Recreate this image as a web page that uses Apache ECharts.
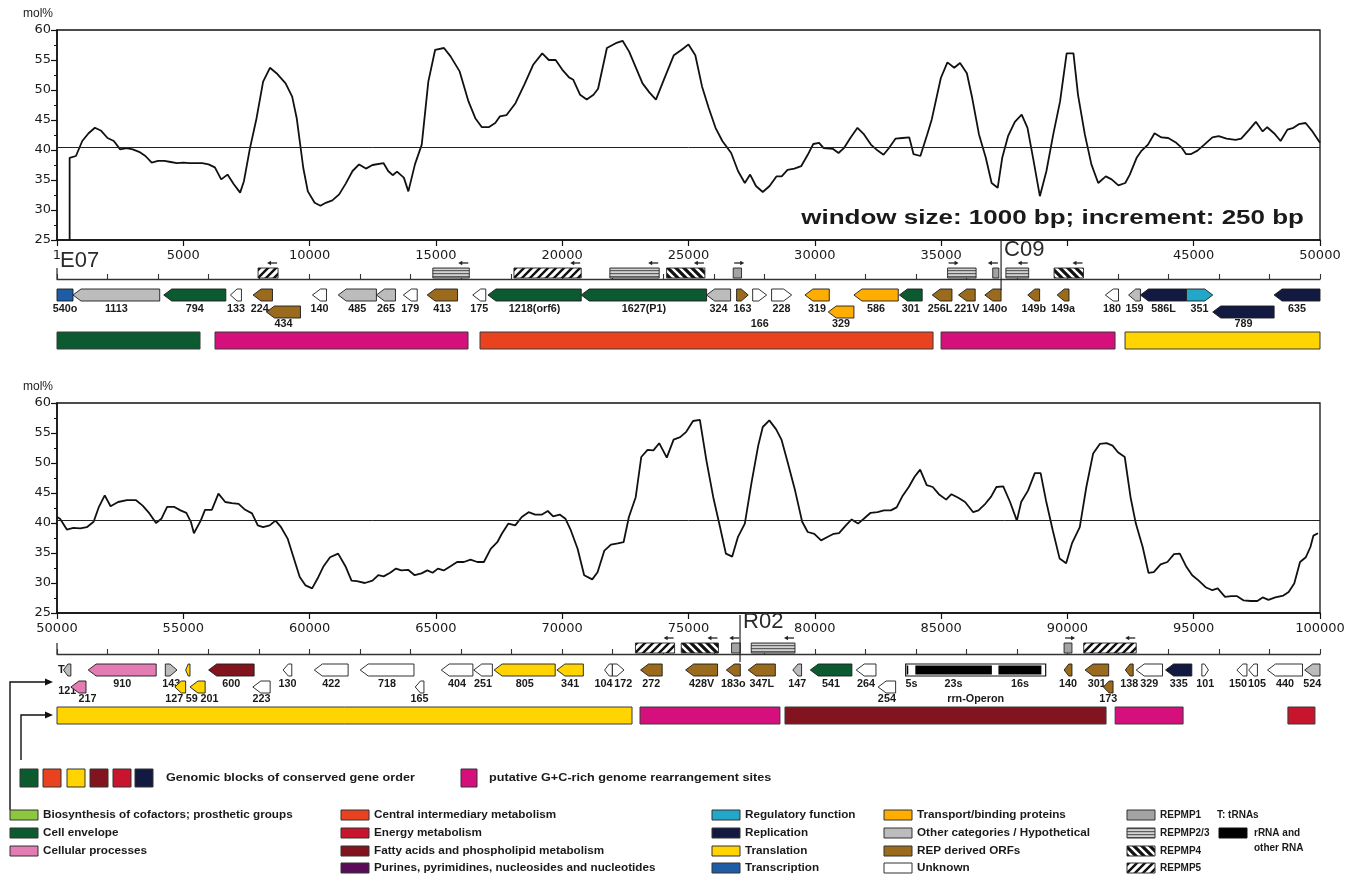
<!DOCTYPE html>
<html>
<head>
<meta charset="utf-8">
<title>G+C content and gene map, 1 - 100000 bp</title>
<script src="https://cdn.jsdelivr.net/npm/echarts/dist/echarts.min.js"></script>
<style>
  html, body { margin: 0; padding: 0; background: #ffffff; }
  #chart { width: 1356px; height: 876px; }
</style>
</head>
<body>
<div id="chart"></div>
<script>
// ---------- G+C content (mol%), window 1000 bp, step 250 bp ----------
const gcMean = 40.4;

const topGC = [
  [500,25],[500,38.7],[750,39.0],[1000,41.5],[1250,42.8],[1500,43.7],[1750,43.2],[2000,42.0],[2250,41.5],
  [2500,40.1],[2750,40.3],[3000,40.1],[3250,39.7],[3500,39.0],[3750,37.9],[4000,38.2],[4250,38.2],[4500,38.0],
  [4750,37.8],[5000,37.9],[5250,37.8],[5500,37.8],[5750,37.8],[6000,37.6],[6250,37.1],[6500,35.1],[6750,35.9],
  [7000,34.3],[7250,32.9],[7400,34.8],[7630,40.1],[7900,45.3],[8160,51.4],[8430,53.7],[8690,52.8],[9050,51.1],
  [9310,48.9],[9490,45.3],[9750,37.0],[9930,33.1],[10200,31.2],[10430,30.7],[10640,31.2],[10900,31.6],
  [11170,32.6],[11430,34.4],[11700,36.5],[11960,37.6],[12230,36.9],[12490,37.5],[12930,37.8],[13110,36.5],
  [13290,35.8],[13460,36.4],[13730,35.4],[13910,33.1],[14170,37.6],[14440,40.9],[14700,51.4],[14970,56.7],
  [15320,57.0],[15580,55.6],[15940,53.1],[16290,48.1],[16560,45.3],[16820,43.8],[17090,43.8],[17350,44.5],
  [17530,45.6],[17790,45.8],[18150,47.8],[18500,50.9],[18850,54.2],[19210,56.1],[19470,55.0],[19740,55.0],
  [20000,53.4],[20270,52.1],[20440,51.7],[20710,49.2],[20970,48.4],[21240,49.2],[21420,50.2],[21770,57.0],
  [22120,57.8],[22390,58.2],[22650,56.4],[23180,51.1],[23450,49.6],[23710,48.4],[24070,52.2],[24420,55.8],
  [24730,56.7],[25000,57.6],[25270,55.8],[25535,50.6],[25800,47.0],[26070,43.7],[26340,41.5],[26690,39.5],
  [26960,36.5],[27230,34.5],[27440,35.9],[27670,34.0],[27940,33.0],[28210,34.0],[28480,35.6],[28690,35.6],
  [28920,36.7],[29190,36.9],[29460,37.3],[29720,39.2],[29940,41.0],[30170,41.2],[30350,40.3],[30710,40.2],
  [30940,39.5],[31150,40.3],[31420,42.1],[31690,43.7],[31950,42.6],[32220,40.9],[32490,39.9],[32720,39.2],
  [32930,40.3],[33200,41.9],[33470,42.0],[33740,42.1],[33910,39.3],[34180,39.0],[34450,42.6],[34630,45.1],
  [34990,52.0],[35250,54.6],[35520,53.7],[35750,54.5],[36020,52.8],[36230,48.7],[36500,42.6],[36770,38.7],
  [37000,34.5],[37240,33.7],[37420,38.7],[37650,42.3],[37920,44.7],[38190,45.9],[38420,43.7],[38640,38.7],
  [38910,32.3],[39170,36.5],[39440,42.6],[39710,48.1],[39970,56.1],[40240,56.1],[40420,49.2],[40690,42.6],
  [40950,37.6],[41220,34.5],[41520,35.6],[41750,35.1],[42020,34.1],[42290,34.5],[42470,35.9],[42740,38.7],
  [42920,39.8],[43190,40.9],[43450,42.8],[43720,42.1],[43990,42.0],[44310,41.2],[44520,40.4],[44700,39.3],
  [44880,39.3],[45150,39.9],[45420,40.9],[45740,42.1],[45990,42.3],[46300,41.9],[46660,41.7],[46880,41.9],
  [47200,43.4],[47460,44.7],[47730,43.1],[47910,43.8],[48180,42.8],[48440,41.5],[48710,43.4],[48950,43.7],
  [49160,44.3],[49430,44.5],[49700,43.1],[50000,41.2]
];

const bottomGC = [
  [50000,41.0],[50120,40.7],[50390,38.9],[50650,39.2],[50920,39.1],[51180,39.3],[51450,40.2],[51660,42.7],
  [51890,44.6],[52120,42.8],[52420,43.5],[52770,43.8],[53130,43.8],[53390,42.9],[53660,41.6],[53920,40.0],
  [54130,40.7],[54360,42.7],[54630,42.7],[54890,42.1],[55120,41.7],[55300,40.2],[55420,38.3],[55690,40.4],
  [55860,42.2],[56130,42.2],[56390,44.9],[56660,43.5],[56920,43.3],[57190,43.2],[57450,42.2],[57720,41.6],
  [57950,39.6],[58160,39.3],[58420,39.6],[58650,40.4],[58870,39.3],[59130,37.4],[59400,33.8],[59610,31.0],
  [59840,29.6],[60100,29.1],[60310,30.7],[60540,32.7],[60810,34.3],[61130,34.9],[61430,32.7],[61660,30.4],
  [61870,30.3],[62190,30.0],[62490,30.4],[62720,31.3],[62930,31.1],[63190,31.7],[63420,32.4],[63630,32.1],
  [63900,32.2],[64160,31.3],[64430,31.6],[64660,32.1],[64870,31.7],[65080,32.4],[65310,32.1],[65580,32.8],
  [65840,33.5],[66110,33.5],[66370,33.9],[66640,33.5],[66900,33.5],[67170,35.7],[67430,36.8],[67610,38.2],
  [67870,39.9],[68140,39.6],[68400,41.0],[68670,41.8],[68930,41.4],[69200,41.4],[69430,42.0],[69640,41.1],
  [69900,41.4],[70130,40.7],[70340,38.8],[70610,35.7],[70870,31.3],[71190,30.6],[71400,31.8],[71670,35.4],
  [71930,36.4],[72200,36.6],[72430,36.8],[72640,41.0],[72910,44.3],[73130,51.0],[73380,52.2],[73610,52.1],
  [73840,53.3],[74140,50.9],[74410,53.9],[74670,54.3],[74910,55.2],[75180,57.0],[75450,57.2],[75710,50.4],
  [75980,44.3],[76250,39.3],[76480,34.9],[76730,34.4],[76960,37.7],[77230,39.9],[77490,46.6],[77760,52.9],
  [77940,56.0],[78200,57.1],[78470,55.6],[78680,53.9],[78920,50.2],[79220,45.4],[79500,40.2],[79720,38.5],
  [79980,38.2],[80250,37.1],[80520,37.7],[80750,38.2],[80960,38.3],[81230,39.6],[81460,40.6],[81710,39.9],
  [81940,40.7],[82210,41.7],[82480,41.8],[82740,42.1],[83010,42.1],[83240,42.6],[83460,44.4],[83720,46.0],
  [83950,47.7],[84170,48.9],[84430,46.3],[84670,46.0],[84910,44.8],[85200,43.9],[85410,44.8],[85680,44.2],
  [85950,43.5],[86270,41.8],[86480,42.1],[86750,43.2],[86980,44.4],[87190,46.0],[87460,46.1],[87730,43.5],
  [88000,40.4],[88170,43.5],[88440,45.4],[88710,48.3],[88940,48.3],[89150,43.8],[89420,38.8],[89690,34.1],
  [89950,33.3],[90180,36.6],[90490,39.3],[90750,46.0],[91020,51.6],[91290,53.2],[91550,53.3],[91790,52.9],
  [92000,51.8],[92270,51.0],[92500,44.3],[92710,39.9],[92980,36.0],[93210,31.7],[93420,31.8],[93690,33.1],
  [93960,33.5],[94220,34.8],[94450,34.9],[94710,32.7],[94940,31.3],[95200,30.4],[95470,29.3],[95740,28.8],
  [95950,29.1],[96240,27.7],[96490,27.8],[96720,27.8],[96980,27.1],[97250,27.0],[97520,27.0],[97730,27.6],
  [97960,27.2],[98230,27.6],[98550,27.9],[98760,28.5],[98980,29.9],[99210,33.5],[99440,34.3],[99620,36.0],
  [99740,37.9],[99920,38.3]
];

// axis tick labels that are left out (covered by a clone name)
const hiddenTickLabels = [40000];
const firstTickLabel = '1';

// ---------- gene maps: [label, start, end, strand, category, row] ----------
const topGenes = [
  ['540o', 0, 634, 0, 'transcription', 1],
  ['1113', 634, 4067, -1, 'other', 1],
  ['794', 4225, 6683, -1, 'envelope', 1],
  ['133', 6866, 7302, -1, 'unknown', 1],
  ['224', 7762, 8530, -1, 'rep', 1],
  ['434', 8292, 9639, -1, 'rep', 2],
  ['140', 10114, 10668, -1, 'unknown', 1],
  ['485', 11133, 12645, -1, 'other', 1],
  ['265', 12645, 13400, -1, 'other', 1],
  ['179', 13710, 14260, -1, 'unknown', 1],
  ['413', 14655, 15857, -1, 'rep', 1],
  ['175', 16459, 16974, -1, 'unknown', 1],
  ['1218(orf6)', 17060, 20753, -1, 'envelope', 1],
  ['1627(P1)', 20753, 25716, -1, 'envelope', 1],
  ['324', 25716, 26666, -1, 'other', 1],
  ['163', 26904, 27364, 1, 'rep', 1],
  ['166', 27540, 28094, 1, 'unknown', 1],
  ['228', 28290, 29082, 1, 'unknown', 1],
  ['319', 29609, 30573, -1, 'transport', 1],
  ['329', 30532, 31549, -1, 'transport', 2],
  ['586', 31549, 33304, -1, 'transport', 1],
  ['301', 33349, 34251, -1, 'envelope', 1],
  ['256L', 34650, 35430, -1, 'rep', 1],
  ['221V', 35691, 36350, -1, 'rep', 1],
  ['140o', 36732, 37374, -1, 'rep', 1],
  ['149b', 38432, 38901, -1, 'rep', 1],
  ['149a', 39595, 40063, -1, 'rep', 1],
  ['180', 41503, 42024, -1, 'unknown', 1],
  ['159', 42423, 42891, -1, 'other', 1],
  ['586L', 42891, 44713, -1, 'replication', 1],
  ['351', 44713, 45754, 1, 'regulatory', 1],
  ['789', 45754, 48183, -1, 'replication', 2],
  ['635', 48183, 50000, -1, 'replication', 1]
];

const bottomGenes = [
  ['121', 50257, 50549, -1, 'other', 1],
  ['217', 50549, 51149, -1, 'cellular', 2],
  ['910', 51235, 53927, -1, 'cellular', 1],
  ['143', 54288, 54751, 1, 'other', 1],
  ['127', 54665, 55093, -1, 'translation', 2],
  ['59', 55093, 55265, -1, 'translation', 1],
  ['201', 55265, 55865, -1, 'translation', 2],
  ['600', 56003, 57803, -1, 'fatty', 1],
  ['223', 57752, 58438, -1, 'unknown', 2],
  ['130', 58952, 59295, -1, 'unknown', 1],
  ['422', 60187, 61525, -1, 'unknown', 1],
  ['718', 62005, 64132, -1, 'unknown', 1],
  ['165', 64183, 64526, -1, 'unknown', 2],
  ['404', 65212, 66464, -1, 'unknown', 1],
  ['251', 66498, 67236, -1, 'unknown', 1],
  ['805', 67304, 69723, -1, 'translation', 1],
  ['341', 69791, 70837, -1, 'translation', 1],
  ['104', 71678, 71986, -1, 'unknown', 1],
  ['172', 71986, 72449, 1, 'unknown', 1],
  ['272', 73101, 73958, -1, 'rep', 1],
  ['428V', 74886, 76151, -1, 'rep', 1],
  ['183o', 76497, 77051, -1, 'rep', 1],
  ['347L', 77363, 78437, -1, 'rep', 1],
  ['147', 79129, 79476, -1, 'other', 1],
  ['541', 79822, 81468, -1, 'envelope', 1],
  ['264', 81641, 82421, -1, 'unknown', 1],
  ['254', 82507, 83200, -1, 'unknown', 2],
  ['140', 89868, 90180, -1, 'rep', 1],
  ['301', 90699, 91634, -1, 'rep', 1],
  ['173', 91426, 91807, -1, 'rep', 2],
  ['138', 92293, 92604, -1, 'rep', 1],
  ['329', 92725, 93765, -1, 'unknown', 1],
  ['335', 93886, 94925, -1, 'replication', 1],
  ['101', 95323, 95583, 1, 'unknown', 1],
  ['150', 96709, 97107, -1, 'unknown', 1],
  ['105', 97177, 97523, -1, 'unknown', 1],
  ['440', 97922, 99307, -1, 'unknown', 1],
  ['524', 99394, 100000, -1, 'other', 1]
];

// rRNA operon and tRNA positions
const bottomOperon = ['rrn-Operon', 83598, 89140];
const bottomRna = [['5s', 83640, 83700], ['23s', 83980, 87010], ['16s', 87270, 88970]];
const bottomTrna = [['T', 50090]];

// repetitive elements: [start, end, type, direction]
const topRepeats = [
  [7960, 8752, 'REPMP5', -1],
  [14878, 16321, 'REPMP2/3', -1],
  [18090, 20753, 'REPMP5', -1],
  [21887, 23840, 'REPMP2/3', -1],
  [24133, 25649, 'REPMP4', -1],
  [26770, 27100, 'REPMP1', 1],
  [35257, 36385, 'REPMP2/3', 1],
  [37044, 37287, 'REPMP1', -1],
  [37565, 38467, 'REPMP2/3', -1],
  [39473, 40636, 'REPMP4', -1]
];
const bottomRepeats = [
  [72900, 74450, 'REPMP5', -1],
  [74713, 76185, 'REPMP4', -1],
  [76705, 77051, 'REPMP1', -1],
  [77484, 79216, 'REPMP2/3', -1],
  [89868, 90180, 'REPMP1', 1],
  [90647, 92725, 'REPMP5', -1]
];

// genomic blocks: [start, end, category]
const topBlocks = [
  [0, 5662, 'envelope'], [6255, 16272, 'rearrangement'], [16747, 34681, 'central'],
  [34998, 41886, 'rearrangement'], [42282, 50000, 'translation']
];
const bottomBlocks = [
  [50000, 72764, 'translation'], [73080, 78620, 'rearrangement'], [78820, 91530, 'fatty'],
  [91890, 94580, 'rearrangement'], [98730, 99800, 'energy']
];

// cosmid clone boundaries
const topClones = [['E07', 0], ['C09', 37374]];
const bottomClones = [['R02', 77040]];

// ---------- legend texts ----------
const legendColumns = [
  [['Biosynthesis of cofactors; prosthetic groups', 'biosynthesis'], ['Cell envelope', 'envelope'], ['Cellular processes', 'cellular']],
  [['Central intermediary metabolism', 'central'], ['Energy metabolism', 'energy'], ['Fatty acids and phospholipid metabolism', 'fatty'], ['Purines, pyrimidines, nucleosides and nucleotides', 'purines']],
  [['Regulatory function', 'regulatory'], ['Replication', 'replication'], ['Translation', 'translation'], ['Transcription', 'transcription']],
  [['Transport/binding proteins', 'transport'], ['Other categories / Hypothetical', 'other'], ['REP derived ORFs', 'rep'], ['Unknown', 'unknown']],
  [['REPMP1', 'REPMP1'], ['REPMP2/3', 'REPMP2/3'], ['REPMP4', 'REPMP4'], ['REPMP5', 'REPMP5']]
];
const blockLegendCats = ['envelope', 'central', 'translation', 'fatty', 'energy', 'replication'];
const blockLegendText = 'Genomic blocks of conserved gene order';
const rearrangementText = 'putative G+C-rich genome rearrangement sites';
const windowText = 'window size: 1000 bp; increment: 250 bp';

// ---------- styles and layout ----------
const COLORS = {
  biosynthesis: '#8dc63f', envelope: '#0c5a30', cellular: '#e27cb3',
  central: '#e8431e', energy: '#c8142c', fatty: '#82141f', purines: '#5a0c58',
  regulatory: '#22a7c9', replication: '#121a42', translation: '#ffd400', transcription: '#1e5ca6',
  transport: '#ffad00', other: '#bcbcbc', rep: '#9a6a1d', unknown: '#ffffff',
  rearrangement: '#d5107c', rna: '#000000'
};

function makePattern(kind) {
  const c = document.createElement('canvas');
  const ctx = c.getContext('2d');
  if (kind === 'REPMP2/3') {
    c.width = 4; c.height = 3;
    ctx.fillStyle = '#d2d2d2'; ctx.fillRect(0, 0, 4, 3);
    ctx.fillStyle = '#5e5e5e'; ctx.fillRect(0, 0, 4, 1.2);
    return c;
  }
  c.width = 8; c.height = 8;
  ctx.fillStyle = '#ffffff'; ctx.fillRect(0, 0, 8, 8);
  ctx.strokeStyle = '#111111';
  ctx.lineWidth = kind === 'REPMP4' ? 3.2 : 2.4;
  ctx.beginPath();
  if (kind === 'REPMP5') {
    ctx.moveTo(-2, 10); ctx.lineTo(10, -2);
    ctx.moveTo(-2, 2); ctx.lineTo(2, -2);
    ctx.moveTo(6, 10); ctx.lineTo(10, 6);
  } else {
    ctx.moveTo(-2, -2); ctx.lineTo(10, 10);
    ctx.moveTo(6, -2); ctx.lineTo(10, 2);
    ctx.moveTo(-2, 6); ctx.lineTo(2, 10);
  }
  ctx.stroke();
  return c;
}
const REPEAT_FILL = {
  'REPMP1': '#a3a3a3',
  'REPMP2/3': { image: makePattern('REPMP2/3'), repeat: 'repeat' },
  'REPMP4': { image: makePattern('REPMP4'), repeat: 'repeat' },
  'REPMP5': { image: makePattern('REPMP5'), repeat: 'repeat' }
};
function fillFor(key) { return REPEAT_FILL[key] || COLORS[key]; }

const PX = {
  repeatTop: -11, repeatBottom: -1, repeatArrow: -16,
  row1: 16, row2: 33, geneHalf: 6,
  label1: 30, label2: 45,
  blockTop: 53, blockBottom: 70,
  startTick: -11
};
const CLONE_LAYOUT = {
  E07: { textDy: -18, lineTop: 0, lineBottom: 0 },
  C09: { textDy: -29, lineTop: -39, lineBottom: 11 },
  R02: { textDy: -32, lineTop: -39, lineBottom: 8 }
};
const LOWERED_LABELS = new Set(['166', '59']);
// small label shifts where neighbouring labels would collide
const LABEL_NUDGE = {
  '121': [0, 7], '217': [9, 0], '127': [-6, 0], '59': [4, 0], '201': [12, 0],
  '104': [-5, 0], '172': [5, 0], '150': [-4, 0], '105': [4, 0], '224': [-3, 0],
  '256L': [-2, 0], '221V': [0, 0], '140o': [2, 0]
};
const GENE_FONT = 'bold 10px "Liberation Sans", Arial, sans-serif';
const AXIS_FONT = '"DejaVu Sans", sans-serif';
const INK = '#1a1a1a';

function textEl(x, y, text, font, align, color, sx) {
  const a = align || 'center';
  return {
    type: 'text', x: x, y: y, silent: true, scaleX: sx || 1, scaleY: 1, originX: 0, originY: 0,
    style: { text: text, font: font, fill: color || INK, align: a, verticalAlign: 'middle',
             textAlign: a, textVerticalAlign: 'middle' }
  };
}

// ---------- series builders ----------
function geneSeries(genes, axis) {
  return {
    type: 'custom', xAxisIndex: axis, yAxisIndex: axis, silent: true, z: 5,
    data: genes.map(g => [g[1], g[2]]),
    encode: { x: [0, 1] },
    renderItem: function (params, api) {
      const g = genes[params.dataIndex];
      const name = g[0], strand = g[3], cat = g[4], row = g[5];
      const a = api.coord([g[1], 0]), b = api.coord([g[2], 0]);
      const x1 = a[0], x2 = b[0], y0 = a[1];
      const yc = y0 + (row === 1 ? PX.row1 : PX.row2);
      const h = PX.geneHalf;
      const head = Math.min(8, (x2 - x1) * 0.6);
      let pts;
      if (strand < 0) pts = [[x1, yc], [x1 + head, yc - h], [x2, yc - h], [x2, yc + h], [x1 + head, yc + h]];
      else if (strand > 0) pts = [[x2, yc], [x2 - head, yc + h], [x1, yc + h], [x1, yc - h], [x2 - head, yc - h]];
      else pts = [[x1, yc - h], [x2, yc - h], [x2, yc + h], [x1, yc + h]];
      const lowered = row === 2 || LOWERED_LABELS.has(name);
      const nudge = LABEL_NUDGE[name] || [0, 0];
      const ly = y0 + (lowered ? PX.label2 : PX.label1) + nudge[1];
      return {
        type: 'group', children: [
          { type: 'polygon', shape: { points: pts }, style: { fill: COLORS[cat], stroke: '#1b1b1b', lineWidth: 0.9 } },
          textEl((x1 + x2) / 2 + nudge[0], ly, name, GENE_FONT, 'center', INK, 1.08)
        ]
      };
    }
  };
}

function repeatSeries(reps, axis) {
  return {
    type: 'custom', xAxisIndex: axis, yAxisIndex: axis, silent: true, z: 5,
    data: reps.map(r => [r[0], r[1]]),
    encode: { x: [0, 1] },
    renderItem: function (params, api) {
      const r = reps[params.dataIndex];
      const a = api.coord([r[0], 0]), b = api.coord([r[1], 0]);
      const x1 = a[0], x2 = b[0], y0 = a[1];
      const dir = r[3];
      const ay = y0 + PX.repeatArrow;
      const len = 10;
      const tail = dir < 0 ? x2 - 1 : x1 + 1;
      const tip = dir < 0 ? tail - len : tail + len;
      return {
        type: 'group', children: [
          { type: 'rect', shape: { x: x1, y: y0 + PX.repeatTop, width: x2 - x1, height: PX.repeatBottom - PX.repeatTop },
            style: { fill: fillFor(r[2]), stroke: '#222', lineWidth: 0.9 } },
          { type: 'line', shape: { x1: tail, y1: ay, x2: tip + dir * -2, y2: ay }, style: { stroke: '#222', lineWidth: 1.3 } },
          { type: 'polygon', shape: { points: [[tip, ay], [tip - dir * 4, ay - 2.2], [tip - dir * 4, ay + 2.2]] }, style: { fill: '#222' } }
        ]
      };
    }
  };
}

function blockSeries(blocks, axis) {
  return {
    type: 'custom', xAxisIndex: axis, yAxisIndex: axis, silent: true, z: 4,
    data: blocks.map(b => [b[0], b[1]]),
    encode: { x: [0, 1] },
    renderItem: function (params, api) {
      const bl = blocks[params.dataIndex];
      const a = api.coord([bl[0], 0]), b = api.coord([bl[1], 0]);
      return {
        type: 'rect',
        shape: { x: a[0], y: a[1] + PX.blockTop, width: b[0] - a[0], height: PX.blockBottom - PX.blockTop },
        style: { fill: COLORS[bl[2]], stroke: '#3a3a3a', lineWidth: 1 }
      };
    }
  };
}

function cloneSeries(clones, axis) {
  return {
    type: 'custom', xAxisIndex: axis, yAxisIndex: axis, silent: true, z: 6,
    data: clones.map(c => [c[1]]),
    encode: { x: 0 },
    renderItem: function (params, api) {
      const c = clones[params.dataIndex];
      const lay = CLONE_LAYOUT[c[0]];
      const p = api.coord([c[1], 0]);
      const children = [textEl(p[0] + 3, p[1] + lay.textDy, c[0], '22px "Liberation Sans", Arial, sans-serif', 'left', '#2b2b2b')];
      if (lay.lineBottom !== lay.lineTop) {
        children.push({ type: 'line', shape: { x1: p[0], y1: p[1] + lay.lineTop, x2: p[0], y2: p[1] + lay.lineBottom },
                        style: { stroke: '#222', lineWidth: 1.2 } });
      }
      return { type: 'group', children: children };
    }
  };
}

function rulerStartSeries(axis, pos) {
  return {
    type: 'custom', xAxisIndex: axis, yAxisIndex: axis, silent: true, z: 6,
    data: [[pos]], encode: { x: 0 },
    renderItem: function (params, api) {
      const p = api.coord([pos, 0]);
      return { type: 'line', shape: { x1: p[0], y1: p[1] + PX.startTick, x2: p[0], y2: p[1] }, style: { stroke: '#333', lineWidth: 1.3 } };
    }
  };
}

function operonSeries(axis) {
  return {
    type: 'custom', xAxisIndex: axis, yAxisIndex: axis, silent: true, z: 5,
    data: [[bottomOperon[1], bottomOperon[2]]],
    encode: { x: [0, 1] },
    renderItem: function (params, api) {
      const a = api.coord([bottomOperon[1], 0]), b = api.coord([bottomOperon[2], 0]);
      const y0 = a[1], yc = y0 + PX.row1, h = PX.geneHalf;
      const kids = [{ type: 'rect', shape: { x: a[0], y: yc - h, width: b[0] - a[0], height: 2 * h },
                      style: { fill: '#ffffff', stroke: '#111', lineWidth: 1.2 } }];
      bottomRna.forEach(function (r) {
        const s = api.coord([r[1], 0])[0], e = api.coord([r[2], 0])[0];
        kids.push({ type: 'rect', shape: { x: s, y: yc - h + 1.5, width: e - s, height: 2 * h - 3 }, style: { fill: COLORS.rna } });
        kids.push(textEl((s + e) / 2 + (r[0] === '5s' ? 4 : 0), y0 + PX.label1, r[0], GENE_FONT, 'center', INK, 1.08));
      });
      kids.push(textEl((a[0] + b[0]) / 2, y0 + PX.label2, bottomOperon[0], GENE_FONT, 'center', INK, 1.08));
      return { type: 'group', children: kids };
    }
  };
}

function trnaSeries(list, axis) {
  return {
    type: 'custom', xAxisIndex: axis, yAxisIndex: axis, silent: true, z: 5,
    data: list.map(t => [t[1]]), encode: { x: 0 },
    renderItem: function (params, api) {
      const t = list[params.dataIndex];
      const p = api.coord([t[1], 0]);
      return textEl(p[0] + 2, p[1] + PX.row1, t[0], 'bold 11px "Liberation Sans", Arial, sans-serif');
    }
  };
}

function gcSeries(data, axis) {
  return {
    type: 'line', xAxisIndex: axis, yAxisIndex: axis, data: data, symbol: 'none', silent: true,
    lineStyle: { color: '#111', width: 1.8 }, z: 3,
    markLine: {
      silent: true, symbol: ['none', 'none'], label: { show: false },
      lineStyle: { color: '#222', width: 1, type: 'solid' },
      data: [{ yAxis: gcMean }]
    }
  };
}

// ---------- axes ----------
function plotX(min, max) {
  return {
    type: 'value', min: min, max: max, interval: 5000,
    axisLine: { show: true, onZero: false, lineStyle: { color: '#111', width: 1.6 } },
    axisTick: { show: true, length: 6, lineStyle: { color: '#111', width: 1.2 } },
    splitLine: { show: false },
    axisLabel: {
      margin: 9, fontSize: 13, fontFamily: AXIS_FONT, color: INK, showMinLabel: true, showMaxLabel: true,
      formatter: function (v) {
        if (v === 0) return firstTickLabel;
        if (hiddenTickLabels.indexOf(v) >= 0) return '';
        return String(v);
      }
    }
  };
}
function rulerX(min, max) {
  return {
    type: 'value', min: min, max: max, interval: 2000,
    axisLine: { show: true, onZero: false, lineStyle: { color: '#333', width: 1.4 } },
    axisTick: { show: true, inside: true, length: 5, lineStyle: { color: '#333', width: 1.1 } },
    axisLabel: { show: false }, splitLine: { show: false }
  };
}
function plotY() {
  return {
    type: 'value', min: 25, max: 60, interval: 5,
    name: 'mol%', nameLocation: 'end', nameGap: 10,
    nameTextStyle: { fontSize: 12, fontFamily: '"Liberation Sans", Arial, sans-serif', color: '#222', align: 'right', padding: [0, 4, 0, 0] },
    axisLine: { show: true, lineStyle: { color: '#111', width: 1.6 } },
    axisTick: { show: true, length: 6, lineStyle: { color: '#111', width: 1.2 } },
    minorTick: { show: true, splitNumber: 2, length: 3, lineStyle: { color: '#111', width: 1 } },
    splitLine: { show: false }, minorSplitLine: { show: false },
    axisLabel: { margin: 6, fontSize: 13, fontFamily: AXIS_FONT, color: INK }
  };
}
function rulerY() {
  return { type: 'value', min: 0, max: 1, show: false };
}

const xAxes = [plotX(0, 50000), rulerX(0, 50000), plotX(50000, 100000), rulerX(50000, 100000)];
xAxes.forEach((ax, i) => { ax.gridIndex = i; });
const yAxes = [plotY(), rulerY(), plotY(), rulerY()];
yAxes.forEach((ax, i) => { ax.gridIndex = i; });

// ---------- legend graphics ----------
const LEG_FONT = 'bold 10px "Liberation Sans", Arial, sans-serif';
const LEG_SCALE = [1.17, 1.17, 1.17, 1.17, 1.0];
const graphics = [];
graphics.push(textEl(1304, 218, windowText, 'bold 20px "Liberation Sans", Arial, sans-serif', 'right', INK, 1.3));

// continuation connectors at the left margin
graphics.push({ type: 'polyline', silent: true, shape: { points: [[10, 810], [10, 682], [46, 682]] }, style: { stroke: '#111', lineWidth: 1.4, fill: null } });
graphics.push({ type: 'polygon', silent: true, shape: { points: [[53, 682], [45, 678.5], [45, 685.5]] }, style: { fill: '#111' } });
graphics.push({ type: 'polyline', silent: true, shape: { points: [[21, 760], [21, 715], [46, 715]] }, style: { stroke: '#111', lineWidth: 1.4, fill: null } });
graphics.push({ type: 'polygon', silent: true, shape: { points: [[53, 715], [45, 711.5], [45, 718.5]] }, style: { fill: '#111' } });

// block legend row
const blockSquareX = [20, 43, 67, 90, 113, 135];
blockLegendCats.forEach((cat, i) => {
  graphics.push({ type: 'rect', silent: true, shape: { x: blockSquareX[i], y: 769, width: 18, height: 18 }, style: { fill: COLORS[cat], stroke: '#333', lineWidth: 1 } });
});
graphics.push(textEl(166, 778, blockLegendText, 'bold 11.5px "Liberation Sans", Arial, sans-serif', 'left', INK, 1.1));
graphics.push({ type: 'rect', silent: true, shape: { x: 461, y: 769, width: 16, height: 18 }, style: { fill: COLORS.rearrangement, stroke: '#333', lineWidth: 1 } });
graphics.push(textEl(489, 778, rearrangementText, 'bold 11.5px "Liberation Sans", Arial, sans-serif', 'left', INK, 1.1));

// category legend
const colX = [10, 341, 712, 884, 1127];
const rowY = [815, 833, 851, 868];
legendColumns.forEach((col, ci) => {
  col.forEach((item, ri) => {
    graphics.push({ type: 'rect', silent: true, shape: { x: colX[ci], y: rowY[ri] - 5, width: 28, height: 10 },
                    style: { fill: fillFor(item[1]), stroke: '#333', lineWidth: 1 } });
    graphics.push(textEl(colX[ci] + 33, rowY[ri], item[0], LEG_FONT, 'left', INK, LEG_SCALE[ci]));
  });
});
graphics.push(textEl(1217, 815, 'T: tRNAs', LEG_FONT, 'left', INK, 1.0));
graphics.push({ type: 'rect', silent: true, shape: { x: 1219, y: 828, width: 28, height: 10 }, style: { fill: COLORS.rna, stroke: '#111', lineWidth: 1 } });
graphics.push(textEl(1254, 833, 'rRNA and', LEG_FONT, 'left', INK, 1.0));
graphics.push(textEl(1254, 848, 'other RNA', LEG_FONT, 'left', INK, 1.0));

// ---------- chart ----------
const chart = echarts.init(document.getElementById('chart'), null, { renderer: 'canvas' });
chart.setOption({
  animation: false,
  backgroundColor: '#ffffff',
  grid: [
    { left: 57, top: 30, width: 1263, height: 210, show: true, borderColor: '#111', borderWidth: 1.3, backgroundColor: 'transparent' },
    { left: 57, top: 268, width: 1263, height: 11 },
    { left: 57, top: 403, width: 1263, height: 210, show: true, borderColor: '#111', borderWidth: 1.3, backgroundColor: 'transparent' },
    { left: 57, top: 643, width: 1263, height: 11 }
  ],
  xAxis: xAxes,
  yAxis: yAxes,
  series: [
    gcSeries(topGC, 0),
    gcSeries(bottomGC, 2),
    blockSeries(topBlocks, 1),
    blockSeries(bottomBlocks, 3),
    repeatSeries(topRepeats, 1),
    repeatSeries(bottomRepeats, 3),
    geneSeries(topGenes, 1),
    geneSeries(bottomGenes, 3),
    operonSeries(3),
    trnaSeries(bottomTrna, 3),
    rulerStartSeries(1, 0),
    rulerStartSeries(3, 50000),
    cloneSeries(topClones, 1),
    cloneSeries(bottomClones, 3)
  ],
  graphic: graphics
});
</script>
</body>
</html>
